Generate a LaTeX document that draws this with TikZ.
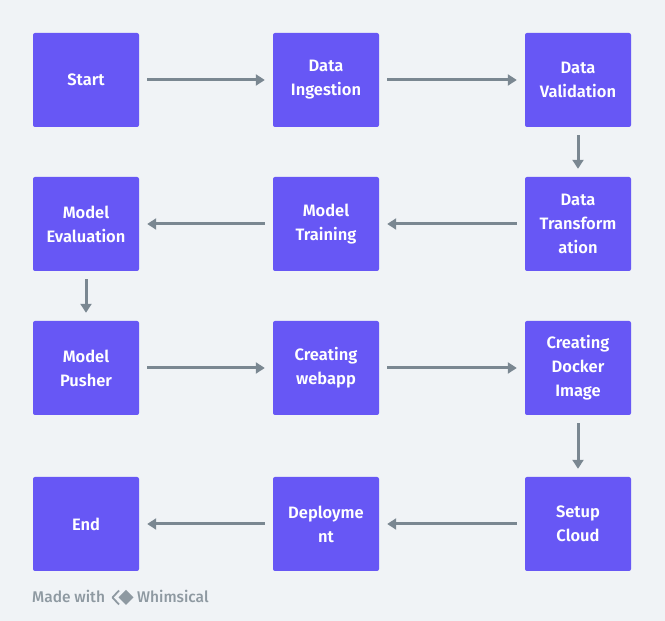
\documentclass[tikz,border=0pt]{standalone}
\usepackage{fontspec}
\setmainfont{Fira Sans}[BoldFont={Fira Sans SemiBold}]
\newfontfamily\markfont{Fira Sans Medium}
\usetikzlibrary{arrows.meta}
\definecolor{boxblue}{HTML}{6757F5}
\definecolor{arrowgray}{HTML}{7A8791}
\definecolor{bggray}{HTML}{F0F3F6}
\definecolor{markgray}{HTML}{8E99A1}
\begin{document}
\begin{tikzpicture}[x=1pt, y=1pt, node distance=240pt, block/.style={rectangle, rounded corners=2pt, fill=boxblue, minimum width=106pt, minimum height=94pt, inner sep=0pt, align=center, text=white, font=\fontsize{16.5}{24}\selectfont\bfseries}, flow/.style={draw=arrowgray, line width=3pt, shorten <=8pt, shorten >=8pt, -{Triangle[length=9pt, width=11pt]}}]

\fill[bggray] (0,0) rectangle (665,621);
\useasboundingbox (0,0) rectangle (665,621);

\node[block] (start) at (86,541) {Start};
\node[block, right of=start] (ingest) {Data\\Ingestion};
\node[block, right of=ingest, node distance=252pt] (valid) {Data\\Validation};
\node[block, below of=valid, node distance=144pt] (transform) {Data\\Transform\\ation};
\node[block, left of=transform, node distance=252pt] (train) {Model\\Training};
\node[block, left of=train] (evaluate) {Model\\Evaluation};
\node[block, below of=evaluate, node distance=144pt] (pusher) {Model\\Pusher};
\node[block, right of=pusher] (webapp) {Creating\\webapp};
\node[block, right of=webapp, node distance=252pt] (docker) {Creating\\Docker\\Image};
\node[block, below of=docker, node distance=156pt] (cloud) {Setup\\Cloud};
\node[block, left of=cloud, node distance=252pt] (deploy) {Deployme\\nt};
\node[block, left of=deploy] (finish) {End};

\draw[flow] (start) -- (ingest);
\draw[flow] (ingest) -- (valid);
\draw[flow] (valid) -- (transform);
\draw[flow] (transform) -- (train);
\draw[flow] (train) -- (evaluate);
\draw[flow] (evaluate) -- (pusher);
\draw[flow] (pusher) -- (webapp);
\draw[flow] (webapp) -- (docker);
\draw[flow] (docker) -- (cloud);
\draw[flow] (cloud) -- (deploy);
\draw[flow] (deploy) -- (finish);

% footer mark
\node[anchor=base west, inner sep=0pt, text=markgray, font=\fontsize{15.5}{18}\markfont] (madewith) at (32,18) {Made with};
\draw[markgray, line width=1.8pt, line join=round] (119,30.5) -- (112.5,23.5) -- (119,16.5);
\fill[markgray] (118.5,23.5) -- (126,31) -- (133.5,23.5) -- (126,16) -- cycle;
\node[anchor=base west, inner sep=0pt, text=markgray, font=\fontsize{15.5}{18}\markfont] (whimsical) at (137,18) {Whimsical};

\end{tikzpicture}
\end{document}
